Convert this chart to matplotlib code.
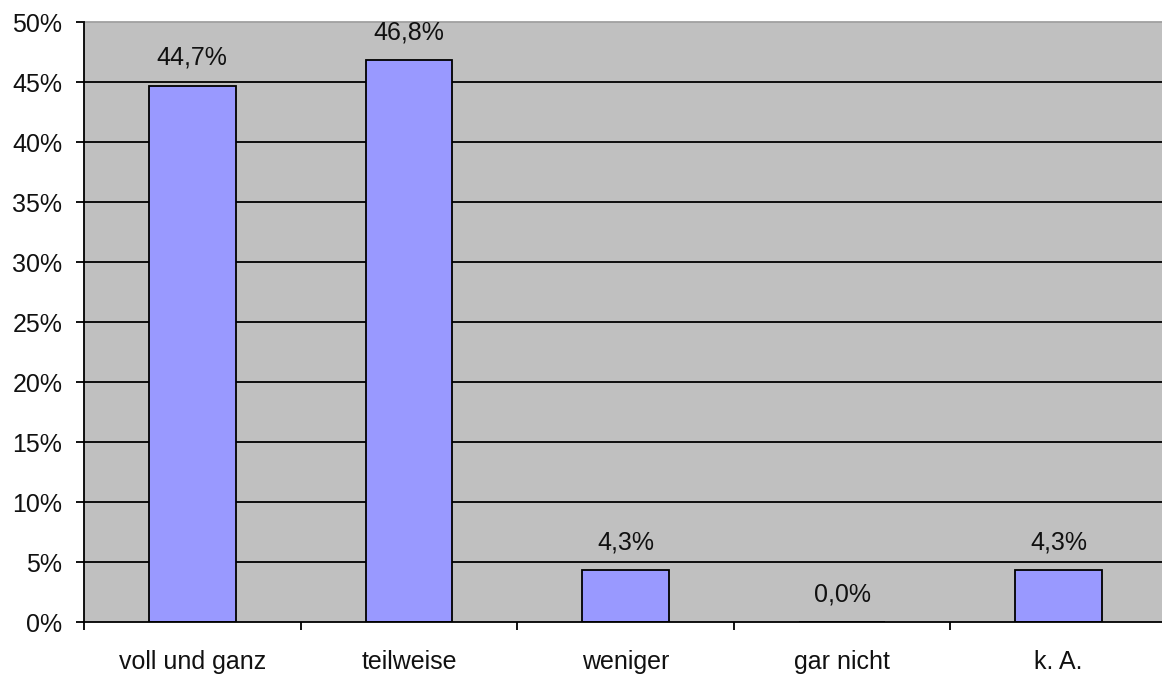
import matplotlib
matplotlib.use("Agg")
import matplotlib.pyplot as plt
from matplotlib.ticker import FixedLocator

categories = ["voll und ganz", "teilweise", "weniger", "gar nicht", "k. A."]
values = [44.7, 46.8, 4.3, 0.0, 4.3]
y_ticks = [0, 5, 10, 15, 20, 25, 30, 35, 40, 45, 50]

plt.rcParams["font.family"] = ["Liberation Sans", "DejaVu Sans"]
FS = 18

W, H = 1162, 677
fig = plt.figure(figsize=(W / 100, H / 100), dpi=100)
ax = fig.add_axes([84 / W, (H - 622) / H, (1167 - 84) / W, 600 / H])
ax.set_facecolor("#C0C0C0")

x = list(range(len(categories)))
ax.bar(x, values, width=0.4, color="#9999FF", edgecolor="black", linewidth=1.3, zorder=3)

for xi, v in zip(x, values):
    ax.annotate(f"{v:.1f}%".replace(".", ","), (xi, v), xytext=(0, 20),
                textcoords="offset points", ha="center", va="center",
                fontsize=FS, color="#111111")

ax.set_xlim(-0.5, len(categories) - 0.5)
ax.set_ylim(0, 50)
ax.set_yticks(y_ticks)
ax.set_yticklabels([f"{t}%" for t in y_ticks], fontsize=FS, color="#111111")
for t in y_ticks[1:-1]:
    ax.axhline(t, color="black", linewidth=1.3, zorder=2)

ax.xaxis.set_major_locator(FixedLocator([i - 0.5 for i in range(len(categories) + 1)]))
ax.xaxis.set_minor_locator(FixedLocator(x))
ax.set_xticklabels([""] * (len(categories) + 1))
ax.set_xticklabels(categories, minor=True, fontsize=FS, color="#111111")
ax.tick_params(axis="x", which="major", length=6, width=1.3, direction="out")
ax.tick_params(axis="x", which="minor", length=0, pad=20)
ax.tick_params(axis="y", length=6, width=1.3, direction="out", pad=9.5)

for side in ("top", "right"):
    ax.spines[side].set_visible(False)
ax.spines["left"].set_linewidth(1.3)
ax.spines["bottom"].set_linewidth(1.3)
ax.spines["left"].set_zorder(4)
ax.spines["bottom"].set_zorder(4)
ax.plot([0, 1], [1, 1], transform=ax.transAxes, color="#A0A0A0", linewidth=1.3, clip_on=False)

fig.savefig("out.png", dpi=100)
